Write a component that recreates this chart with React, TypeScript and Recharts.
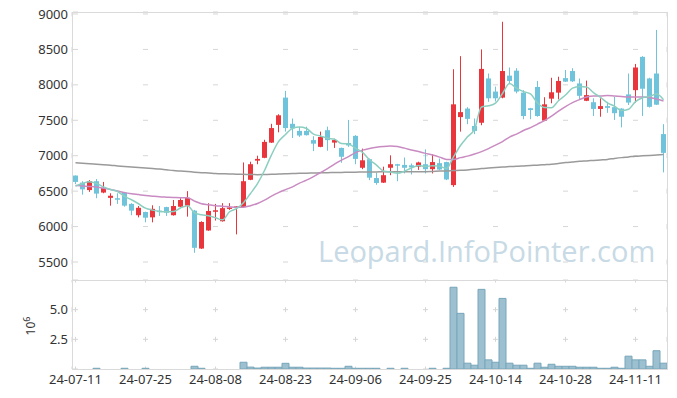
import React from "react";
import { ComposedChart, Bar, Line, XAxis, YAxis, CartesianGrid } from "recharts";

// trading days 24-07-11 .. 24-11-15
const dates = [
  "24-07-11", "24-07-12", "24-07-15", "24-07-16", "24-07-17", "24-07-18", "24-07-19", "24-07-22", "24-07-23", "24-07-24",
  "24-07-25", "24-07-26", "24-07-29", "24-07-30", "24-07-31", "24-08-01", "24-08-02", "24-08-05", "24-08-06", "24-08-07",
  "24-08-08", "24-08-09", "24-08-12", "24-08-13", "24-08-14", "24-08-16", "24-08-19", "24-08-20", "24-08-21", "24-08-22",
  "24-08-23", "24-08-26", "24-08-27", "24-08-28", "24-08-29", "24-08-30", "24-09-02", "24-09-03", "24-09-04", "24-09-05",
  "24-09-06", "24-09-09", "24-09-10", "24-09-11", "24-09-12", "24-09-13", "24-09-19", "24-09-20", "24-09-23", "24-09-24",
  "24-09-25", "24-09-26", "24-09-27", "24-09-30", "24-10-02", "24-10-04", "24-10-07", "24-10-08", "24-10-10", "24-10-11",
  "24-10-14", "24-10-15", "24-10-16", "24-10-17", "24-10-18", "24-10-21", "24-10-22", "24-10-23", "24-10-24", "24-10-25",
  "24-10-28", "24-10-29", "24-10-30", "24-10-31", "24-11-01", "24-11-04", "24-11-05", "24-11-06", "24-11-07", "24-11-08",
  "24-11-11", "24-11-12", "24-11-13", "24-11-14", "24-11-15",
];

const tickDates = ["24-07-11", "24-07-25", "24-08-08", "24-08-23", "24-09-06", "24-09-25", "24-10-14", "24-10-28", "24-11-11"];
const priceTicks = [5500, 6000, 6500, 7000, 7500, 8000, 8500, 9000];
const volumeTicks = [2.5, 5.0, 7.5];

const openPrices = [
  6720, 6620, 6515, 6640, 6480, 6405, 6400, 6480, 6320, 6160,
  6205, 6130, 6225, 6275, 6160, 6280, 6295, 6225, 5690, 5945,
  6210, 6075, 6255, 6270, 6275, 6660, 6930, 6970, 7185, 7435,
  7820, 7450, 7350, 7350, 7220, 7125, 7360, 7185, 7110, 7180,
  7280, 6830, 6950, 6685, 6620, 6830, 6880, 6870, 6865, 6845,
  6880, 6810, 6895, 6910, 6585, 7545, 7665, 7420, 7465, 8090,
  7905, 7820, 8130, 8200, 7890, 7670, 7970, 7495, 7805, 7890,
  8095, 8195, 8020, 7775, 7755, 7660, 7700, 7685, 7665, 7865,
  7925, 8395, 8090, 8160, 7305,
];
const highPrices = [
  6720, 6640, 6655, 6670, 6630, 6470, 6470, 6490, 6330, 6290,
  6210, 6300, 6290, 6280, 6375, 6400, 6500, 6235, 6075, 6330,
  6320, 6330, 6330, 6290, 6905, 6915, 7000, 7225, 7450, 7585,
  7915, 7525, 7405, 7410, 7275, 7340, 7410, 7240, 7115, 7505,
  7290, 7100, 6960, 6760, 6845, 7005, 6885, 6975, 6890, 6915,
  7090, 7020, 6960, 6915, 8220, 8405, 7685, 7525, 8500, 8160,
  7975, 8890, 8245, 8235, 7925, 7675, 8055, 7825, 8100, 8115,
  8210, 8235, 8090, 8060, 7810, 7810, 7760, 7830, 7670, 8160,
  8295, 8405, 8100, 8775, 7445,
];
const lowPrices = [
  6600, 6450, 6490, 6400, 6470, 6295, 6320, 6280, 6160, 6130,
  6060, 6060, 6150, 6150, 6155, 6275, 6140, 5630, 5685, 5940,
  6085, 6070, 6235, 5890, 6270, 6655, 6880, 6965, 7180, 7330,
  7340, 7250, 7265, 7285, 7065, 7120, 7070, 7110, 6900, 7125,
  6880, 6810, 6655, 6590, 6615, 6725, 6640, 6750, 6735, 6800,
  6750, 6750, 6800, 6655, 6560, 7340, 7445, 7305, 7430, 7760,
  7765, 7810, 8010, 7880, 7515, 7515, 7550, 7490, 7740, 7795,
  8040, 8040, 7795, 7770, 7560, 7550, 7605, 7505, 7400, 7715,
  7750, 7560, 7680, 7715, 6765,
];
const closePrices = [
  6630, 6525, 6640, 6465, 6545, 6435, 6390, 6295, 6225, 6265,
  6125, 6250, 6205, 6195, 6290, 6375, 6405, 5700, 6065, 6220,
  6230, 6260, 6270, 6285, 6640, 6880, 6955, 7195, 7390, 7570,
  7390, 7385, 7285, 7290, 7170, 7265, 7220, 7220, 6985, 7145,
  6955, 6935, 6690, 6615, 6725, 6880, 6860, 6830, 6835, 6905,
  6810, 6910, 6805, 6665, 7725, 7615, 7520, 7350, 8225, 7810,
  7810, 8195, 8055, 7905, 7560, 7645, 7560, 7725, 7895, 8055,
  8045, 8050, 7845, 7855, 7660, 7700, 7675, 7600, 7550, 7750,
  8245, 7945, 7690, 7720, 7040,
];

const ma5 = [
  6571, 6609, 6631, 6609, 6561, 6522, 6495, 6426, 6378, 6322,
  6260, 6232, 6214, 6208, 6213, 6263, 6294, 6193, 6167, 6153,
  6124, 6095, 6209, 6253, 6337, 6467, 6606, 6791, 7012, 7198,
  7300, 7386, 7404, 7384, 7304, 7279, 7246, 7233, 7172, 7167,
  7105, 7048, 6942, 6868, 6784, 6769, 6754, 6782, 6826, 6862,
  6848, 6858, 6853, 6819, 6983, 7144, 7266, 7375, 7687, 7704,
  7743, 7878, 8019, 7955, 7905, 7872, 7745, 7679, 7677, 7776,
  7856, 7954, 7978, 7970, 7891, 7822, 7747, 7698, 7637, 7655,
  7764, 7818, 7836, 7870, 7790,
];
const ma20 = [
  6581, 6573, 6566, 6557, 6542, 6524, 6503, 6479, 6463, 6451,
  6439, 6429, 6420, 6415, 6411, 6408, 6405, 6359, 6323, 6309,
  6295, 6288, 6278, 6271, 6274, 6295, 6326, 6373, 6429, 6479,
  6521, 6561, 6613, 6655, 6705, 6761, 6818, 6881, 6938, 6987,
  7044, 7079, 7103, 7121, 7131, 7136, 7129, 7107, 7082, 7058,
  7033, 7009, 6980, 6948, 6945, 6973, 6994, 7023, 7058, 7100,
  7150, 7199, 7263, 7305, 7355, 7397, 7446, 7496, 7559, 7630,
  7694, 7750, 7792, 7828, 7842, 7842, 7849, 7842, 7835, 7828,
  7828, 7828, 7821, 7799, 7771,
];
const ma120 = [
  6900, 6894, 6888, 6881, 6874, 6866, 6856, 6847, 6839, 6832,
  6825, 6818, 6811, 6801, 6790, 6783, 6776, 6768, 6761, 6756,
  6750, 6746, 6743, 6740, 6737, 6735, 6733, 6735, 6737, 6742,
  6746, 6749, 6752, 6754, 6756, 6759, 6760, 6763, 6764, 6767,
  6768, 6770, 6771, 6771, 6773, 6773, 6773, 6774, 6774, 6775,
  6775, 6778, 6783, 6785, 6790, 6794, 6800, 6808, 6818, 6825,
  6832, 6839, 6846, 6850, 6856, 6862, 6867, 6874, 6881, 6891,
  6903, 6912, 6921, 6927, 6934, 6941, 6948, 6961, 6973, 6983,
  6994, 6999, 7004, 7010, 7016,
];

// volume, millions of shares
const volume = [
  0, 0, 0, 0.06, 0, 0, 0, 0.06, 0, 0,
  0.06, 0, 0, 0, 0, 0, 0, 0.23, 0.06, 0,
  0, 0, 0, 0, 0.57, 0.16, 0.08, 0.15, 0.15, 0.15,
  0.48, 0.15, 0.15, 0.08, 0.08, 0.08, 0.08, 0.06, 0.06, 0.23,
  0.06, 0.06, 0.06, 0.06, 0, 0.06, 0, 0.06, 0, 0,
  0, 0.06, 0, 0.06, 6.89, 4.69, 0.49, 0.32, 6.71, 0.77,
  0.57, 5.95, 0.49, 0.32, 0.32, 0.06, 0.49, 0.15, 0.4, 0.23,
  0.23, 0.23, 0.15, 0.15, 0.15, 0.06, 0.06, 0.15, 0.06, 1.08,
  0.77, 0.77, 0.23, 1.54, 0.49,
];

const rows = dates.map((date, i) => ({
  date,
  open: openPrices[i],
  high: highPrices[i],
  low: lowPrices[i],
  close: closePrices[i],
  ma5: ma5[i],
  ma20: ma20[i],
  ma120: ma120[i],
  volume: volume[i],
}));

const UP = "#e8363c";
const DOWN = "#6fc4db";
const FRAME = "#dadada";
const GRID = "#d6d6d6";
const FONT = "'Noto Sans', sans-serif";

const PRICE_MIN = 5246;
const PRICE_MAX = 9028;
const MAIN_H = 268;
const VOL_H = 89;
const VOL_MAX = 7.5;

// dash patterns so the grid shows only small crosses at tick intersections
const pricePx = MAIN_H / (PRICE_MAX - PRICE_MIN);
const pricePeriod = 500 * pricePx;
const priceOffset = 2.5 - (PRICE_MAX - 9000) * pricePx;
const volPeriod = (2.5 / VOL_MAX) * VOL_H;

const Candle = (props: any) => {
  const { x, y, width, height, payload } = props;
  if (!payload) return null;
  const { open, close, high, low } = payload;
  const color = close >= open ? UP : DOWN;
  const k = height / (high - low || 1);
  const top = y + (high - Math.max(open, close)) * k;
  const bot = y + (high - Math.min(open, close)) * k;
  const cx = x + width / 2;
  return (
    <g>
      <line x1={cx} x2={cx} y1={y} y2={y + height} stroke={color} strokeWidth={1} />
      <rect x={x} y={top} width={width} height={Math.max(bot - top, 1.5)} fill={color} />
    </g>
  );
};

const tickStyle = { fontSize: 13, fill: "#333", fontFamily: FONT };

// plot frames (main panel and volume panel)
const frame = (top: number, height: number): React.CSSProperties => ({
  position: "absolute",
  left: 72,
  top,
  width: 596,
  height,
  boxSizing: "border-box",
  border: `1px solid ${FRAME}`,
  pointerEvents: "none",
});

export default function App() {
  return (
    <div style={{ position: "absolute", left: 0, top: 0, width: 677, height: 398, background: "#fff" }}>
      <div style={{ position: "absolute", left: 0, top: 0 }}>
        <ComposedChart width={677} height={281} data={rows} margin={{ top: 12, right: 10, bottom: 1, left: 0 }} barCategoryGap={0}>
          <CartesianGrid vertical={false} stroke={GRID} strokeDasharray="5 65" strokeDashoffset={69} />
          <CartesianGrid
            horizontal={false}
            stroke={GRID}
            strokeDasharray={`5 ${pricePeriod - 5}`}
            strokeDashoffset={priceOffset}
          />
          <XAxis dataKey="date" ticks={tickDates} tick={false} tickLine={false} height={0} axisLine={false} />
          <YAxis
            domain={[PRICE_MIN, PRICE_MAX]}
            ticks={priceTicks}
            width={72}
            tickLine={false}
            tickSize={2}
            tickMargin={2}
            axisLine={false}
            tick={tickStyle}
            allowDataOverflow
          />
          <Bar dataKey={(d: any) => [d.low, d.high]} barSize={5} shape={<Candle />} isAnimationActive={false} />
          <Line dataKey="ma120" type="monotone" stroke="#9a9a9a" strokeWidth={1.5} dot={false} isAnimationActive={false} />
          <Line dataKey="ma20" type="monotone" stroke="#c98bc2" strokeWidth={1.5} dot={false} isAnimationActive={false} />
          <Line dataKey="ma5" type="monotone" stroke="#8ccfc0" strokeWidth={1.5} dot={false} isAnimationActive={false} />
        </ComposedChart>
      </div>
      <div
        style={{
          position: "absolute",
          left: 318,
          top: 233,
          fontFamily: "'Open Sans', sans-serif",
          fontSize: 29,
          lineHeight: "36px",
          color: "#c7dae5",
          whiteSpace: "nowrap",
          pointerEvents: "none",
        }}
      >
        Leopard.InfoPointer.com
      </div>
      <div style={{ position: "absolute", left: 0, top: 280 }}>
        <ComposedChart width={677} height={118} data={rows} margin={{ top: 0, right: 10, bottom: 0, left: 0 }} barCategoryGap={0}>
          <CartesianGrid vertical={false} stroke={GRID} strokeDasharray="5 65" strokeDashoffset={69} />
          <CartesianGrid
            horizontal={false}
            stroke={GRID}
            strokeDasharray={`5 ${volPeriod - 5}`}
            strokeDashoffset={2.5}
          />
          <XAxis
            dataKey="date"
            ticks={tickDates}
            interval={0}
            height={29}
            tickLine={false}
            tickSize={4}
            tickMargin={2}
            axisLine={false}
            tick={tickStyle}
          />
          <YAxis
            domain={[0, VOL_MAX]}
            ticks={volumeTicks}
            width={72}
            tickLine={false}
            tickSize={2}
            tickMargin={2}
            axisLine={false}
            tick={tickStyle}
            tickFormatter={(v: number) => (v >= VOL_MAX ? "" : v.toFixed(1))}
            label={{
              content: () => (
                <text x={35} y={46} transform="rotate(-90, 35, 46)" textAnchor="middle" fontSize={12} fill="#333" fontFamily={FONT}>
                  10
                  <tspan dy={-5} fontSize={9}>6</tspan>
                </text>
              ),
            }}
          />
          <Bar dataKey="volume" fill="#9cc0d0" stroke="#78a6ba" strokeWidth={1} isAnimationActive={false} />
        </ComposedChart>
      </div>
      <div style={frame(12, 269)} />
      <div style={frame(280, 90)} />
    </div>
  );
}
